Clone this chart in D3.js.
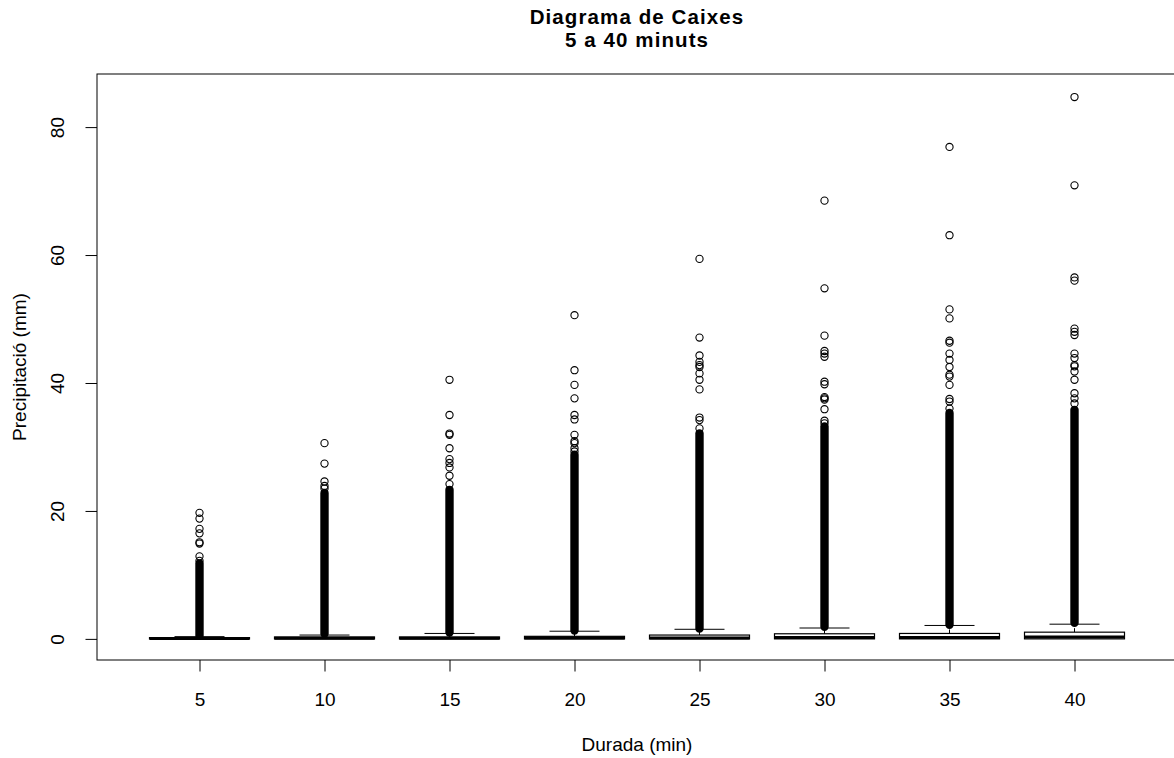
<!DOCTYPE html>
<html>
  <head>
    <meta charset="utf-8" />
    <title>Diagrama de Caixes</title>
    <script src="https://d3js.org/d3.v7.min.js"></script>
    <style>
      body {
        margin: 0;
        background: #fff;
        font-family: "Liberation Sans", Arial, sans-serif;
      }
      text {
        fill: #000;
      }
      .tick-label {
        font-size: 19px;
      }
      .axis-title {
        font-size: 19px;
      }
      .title {
        font-size: 20.5px;
        font-weight: bold;
        letter-spacing: 1.1px;
      }
    </style>
  </head>
  <body>
    <svg id="chart"></svg>

    <script>
      // Durations (minutes), one box per duration
      const categories = [5, 10, 15, 20, 25, 30, 35, 40];

      // Box statistics (mm)
      const q1 = [0, 0, 0, 0, 0, 0, 0, 0];
      const median = [0.05, 0.1, 0.1, 0.15, 0.15, 0.2, 0.2, 0.3];
      const q3 = [0.2, 0.3, 0.3, 0.4, 0.6, 0.8, 0.85, 1.05];
      const whiskerHigh = [0.35, 0.6, 0.85, 1.2, 1.5, 1.7, 2.1, 2.3];

      // Range where outliers overlap into a solid column
      const denseLow = [0.5, 0.8, 1.0, 1.3, 1.6, 1.9, 2.2, 2.5];
      const denseHigh = [11.8, 22.8, 23.3, 28.8, 32.1, 33.2, 35.3, 35.8];

      // Separate outliers above the solid column
      const outliers5 = [19.7, 18.8, 17.2, 16.5, 15.1, 14.9, 12.9, 12.2];
      const outliers10 = [30.6, 27.4, 24.6, 23.9, 23.5];
      const outliers15 = [40.5, 35.0, 32.1, 31.9, 29.8, 28.1, 27.5, 26.8, 25.5, 24.2];
      const outliers20 = [50.6, 42.0, 39.7, 37.6, 35.0, 34.3, 31.9, 30.9, 30.6, 29.8, 29.3];
      const outliers25 = [59.4, 47.1, 44.3, 43.3, 42.8, 42.5, 41.5, 40.5, 39.0, 34.6, 34.2, 32.9];
      const outliers30 = [68.5, 54.8, 47.4, 45.0, 44.6, 44.1, 40.2, 39.8, 37.8, 37.6, 37.4, 35.9, 34.1, 33.7];
      const outliers35 = [76.9, 63.1, 51.5, 50.1, 46.6, 46.3, 44.6, 43.6, 42.5, 41.3, 41.0, 39.7, 37.5, 37.1, 36.0];
      const outliers40 = [84.7, 70.9, 56.5, 56.0, 48.5, 48.0, 47.5, 44.6, 43.9, 42.8, 42.6, 41.8, 40.5, 38.4, 37.6, 36.8];
      const outliers = [outliers5, outliers10, outliers15, outliers20,
                        outliers25, outliers30, outliers35, outliers40];

      const yTicks = [0, 20, 40, 60, 80];

      const width = 1174;
      const height = 758;
      const margin = { top: 74, left: 97 };
      const plotW = 1080;
      const plotH = 586;
      const r = 3.6;

      const svg = d3.select('#chart')
                    .attr('width', width)
                    .attr('height', height);

      const x = d3.scaleLinear()
                  .domain([0.18, 8.82])
                  .range([margin.left, margin.left + plotW]);

      const y = d3.scaleLinear()
                  .domain([-3.3, 88.3])
                  .range([margin.top + plotH, margin.top]);

      const boxHalf = x(1.4) - x(1);   // boxwex 0.8
      const capHalf = boxHalf / 2;

      const groups = categories.map((c, i) => ({
        i: i, pos: i + 1, q1: q1[i], med: median[i], q3: q3[i],
        hi: whiskerHigh[i], dLow: denseLow[i], dHigh: denseHigh[i], out: outliers[i]
      }));

      const g = svg.selectAll('.group')
                   .data(groups)
                   .enter().append('g')
                   .attr('class', 'group');

      // dashed whisker
      g.append('line')
       .attr('x1', d => x(d.pos)).attr('x2', d => x(d.pos))
       .attr('y1', d => y(d.q3)).attr('y2', d => y(d.hi))
       .attr('stroke', '#000').attr('stroke-dasharray', '4,4');

      // whisker cap
      g.append('line')
       .attr('x1', d => x(d.pos) - capHalf).attr('x2', d => x(d.pos) + capHalf)
       .attr('y1', d => y(d.hi)).attr('y2', d => y(d.hi))
       .attr('stroke', '#000');

      // box
      g.append('rect')
       .attr('x', d => x(d.pos) - boxHalf)
       .attr('y', d => y(d.q3))
       .attr('width', boxHalf * 2)
       .attr('height', d => y(d.q1) - y(d.q3))
       .attr('fill', '#fff')
       .attr('stroke', '#000')
       .attr('stroke-width', 1.2);

      // median
      g.append('line')
       .attr('x1', d => x(d.pos) - boxHalf).attr('x2', d => x(d.pos) + boxHalf)
       .attr('y1', d => y(d.med)).attr('y2', d => y(d.med))
       .attr('stroke', '#000').attr('stroke-width', 3);

      // solid column of overlapping outliers
      g.append('rect')
       .attr('x', d => x(d.pos) - r - 0.6)
       .attr('y', d => y(d.dHigh) - r - 0.6)
       .attr('width', 2 * r + 1.2)
       .attr('height', d => y(d.dLow) - y(d.dHigh) + 2 * r + 1.2)
       .attr('rx', r + 0.6)
       .attr('fill', '#000');

      // single outliers
      g.selectAll('circle')
       .data(d => d.out.map(v => ({ pos: d.pos, v: v })))
       .enter().append('circle')
       .attr('cx', d => x(d.pos))
       .attr('cy', d => y(d.v))
       .attr('r', r)
       .attr('fill', 'none')
       .attr('stroke', '#000')
       .attr('stroke-width', 1.1);

      // plot frame
      svg.append('rect')
         .attr('x', margin.left).attr('y', margin.top)
         .attr('width', plotW).attr('height', plotH)
         .attr('fill', 'none').attr('stroke', '#000');

      // x axis
      const xAxis = svg.append('g')
         .attr('transform', `translate(0, ${margin.top + plotH})`)
         .call(d3.axisBottom(x).tickValues(d3.range(1, 9)).tickSize(11.5).tickSizeOuter(0)
                 .tickFormat((d, i) => categories[i]));
      xAxis.select('.domain').remove();
      xAxis.selectAll('text').attr('class', 'tick-label').attr('font-family', null)
           .attr('font-size', null).attr('dy', null).attr('y', 46);

      // y axis
      const yAxis = svg.append('g')
         .attr('transform', `translate(${margin.left}, 0)`)
         .call(d3.axisLeft(y).tickValues(yTicks).tickSize(11.5).tickSizeOuter(0));
      yAxis.select('.domain').remove();
      yAxis.selectAll('text').attr('class', 'tick-label').attr('font-family', null)
           .attr('font-size', null).attr('dy', null).attr('x', null)
           .attr('text-anchor', 'middle')
           .attr('transform', 'translate(-33, 0) rotate(-90)');

      svg.selectAll('.tick line').attr('stroke', '#000');

      // axis titles
      svg.append('text')
         .attr('class', 'axis-title')
         .attr('x', x(4.5)).attr('y', 751)
         .attr('text-anchor', 'middle')
         .text('Durada (min)');

      svg.append('text')
         .attr('class', 'axis-title')
         .attr('transform', `translate(26, ${margin.top + plotH / 2}) rotate(-90)`)
         .attr('text-anchor', 'middle')
         .text('Precipitació (mm)');

      // title, two lines
      svg.append('text').attr('class', 'title')
         .attr('x', x(4.5)).attr('y', 24).attr('text-anchor', 'middle')
         .text('Diagrama de Caixes');
      svg.append('text').attr('class', 'title')
         .attr('x', x(4.5)).attr('y', 47).attr('text-anchor', 'middle')
         .text('5 a 40 minuts');
    </script>
  </body>
</html>
